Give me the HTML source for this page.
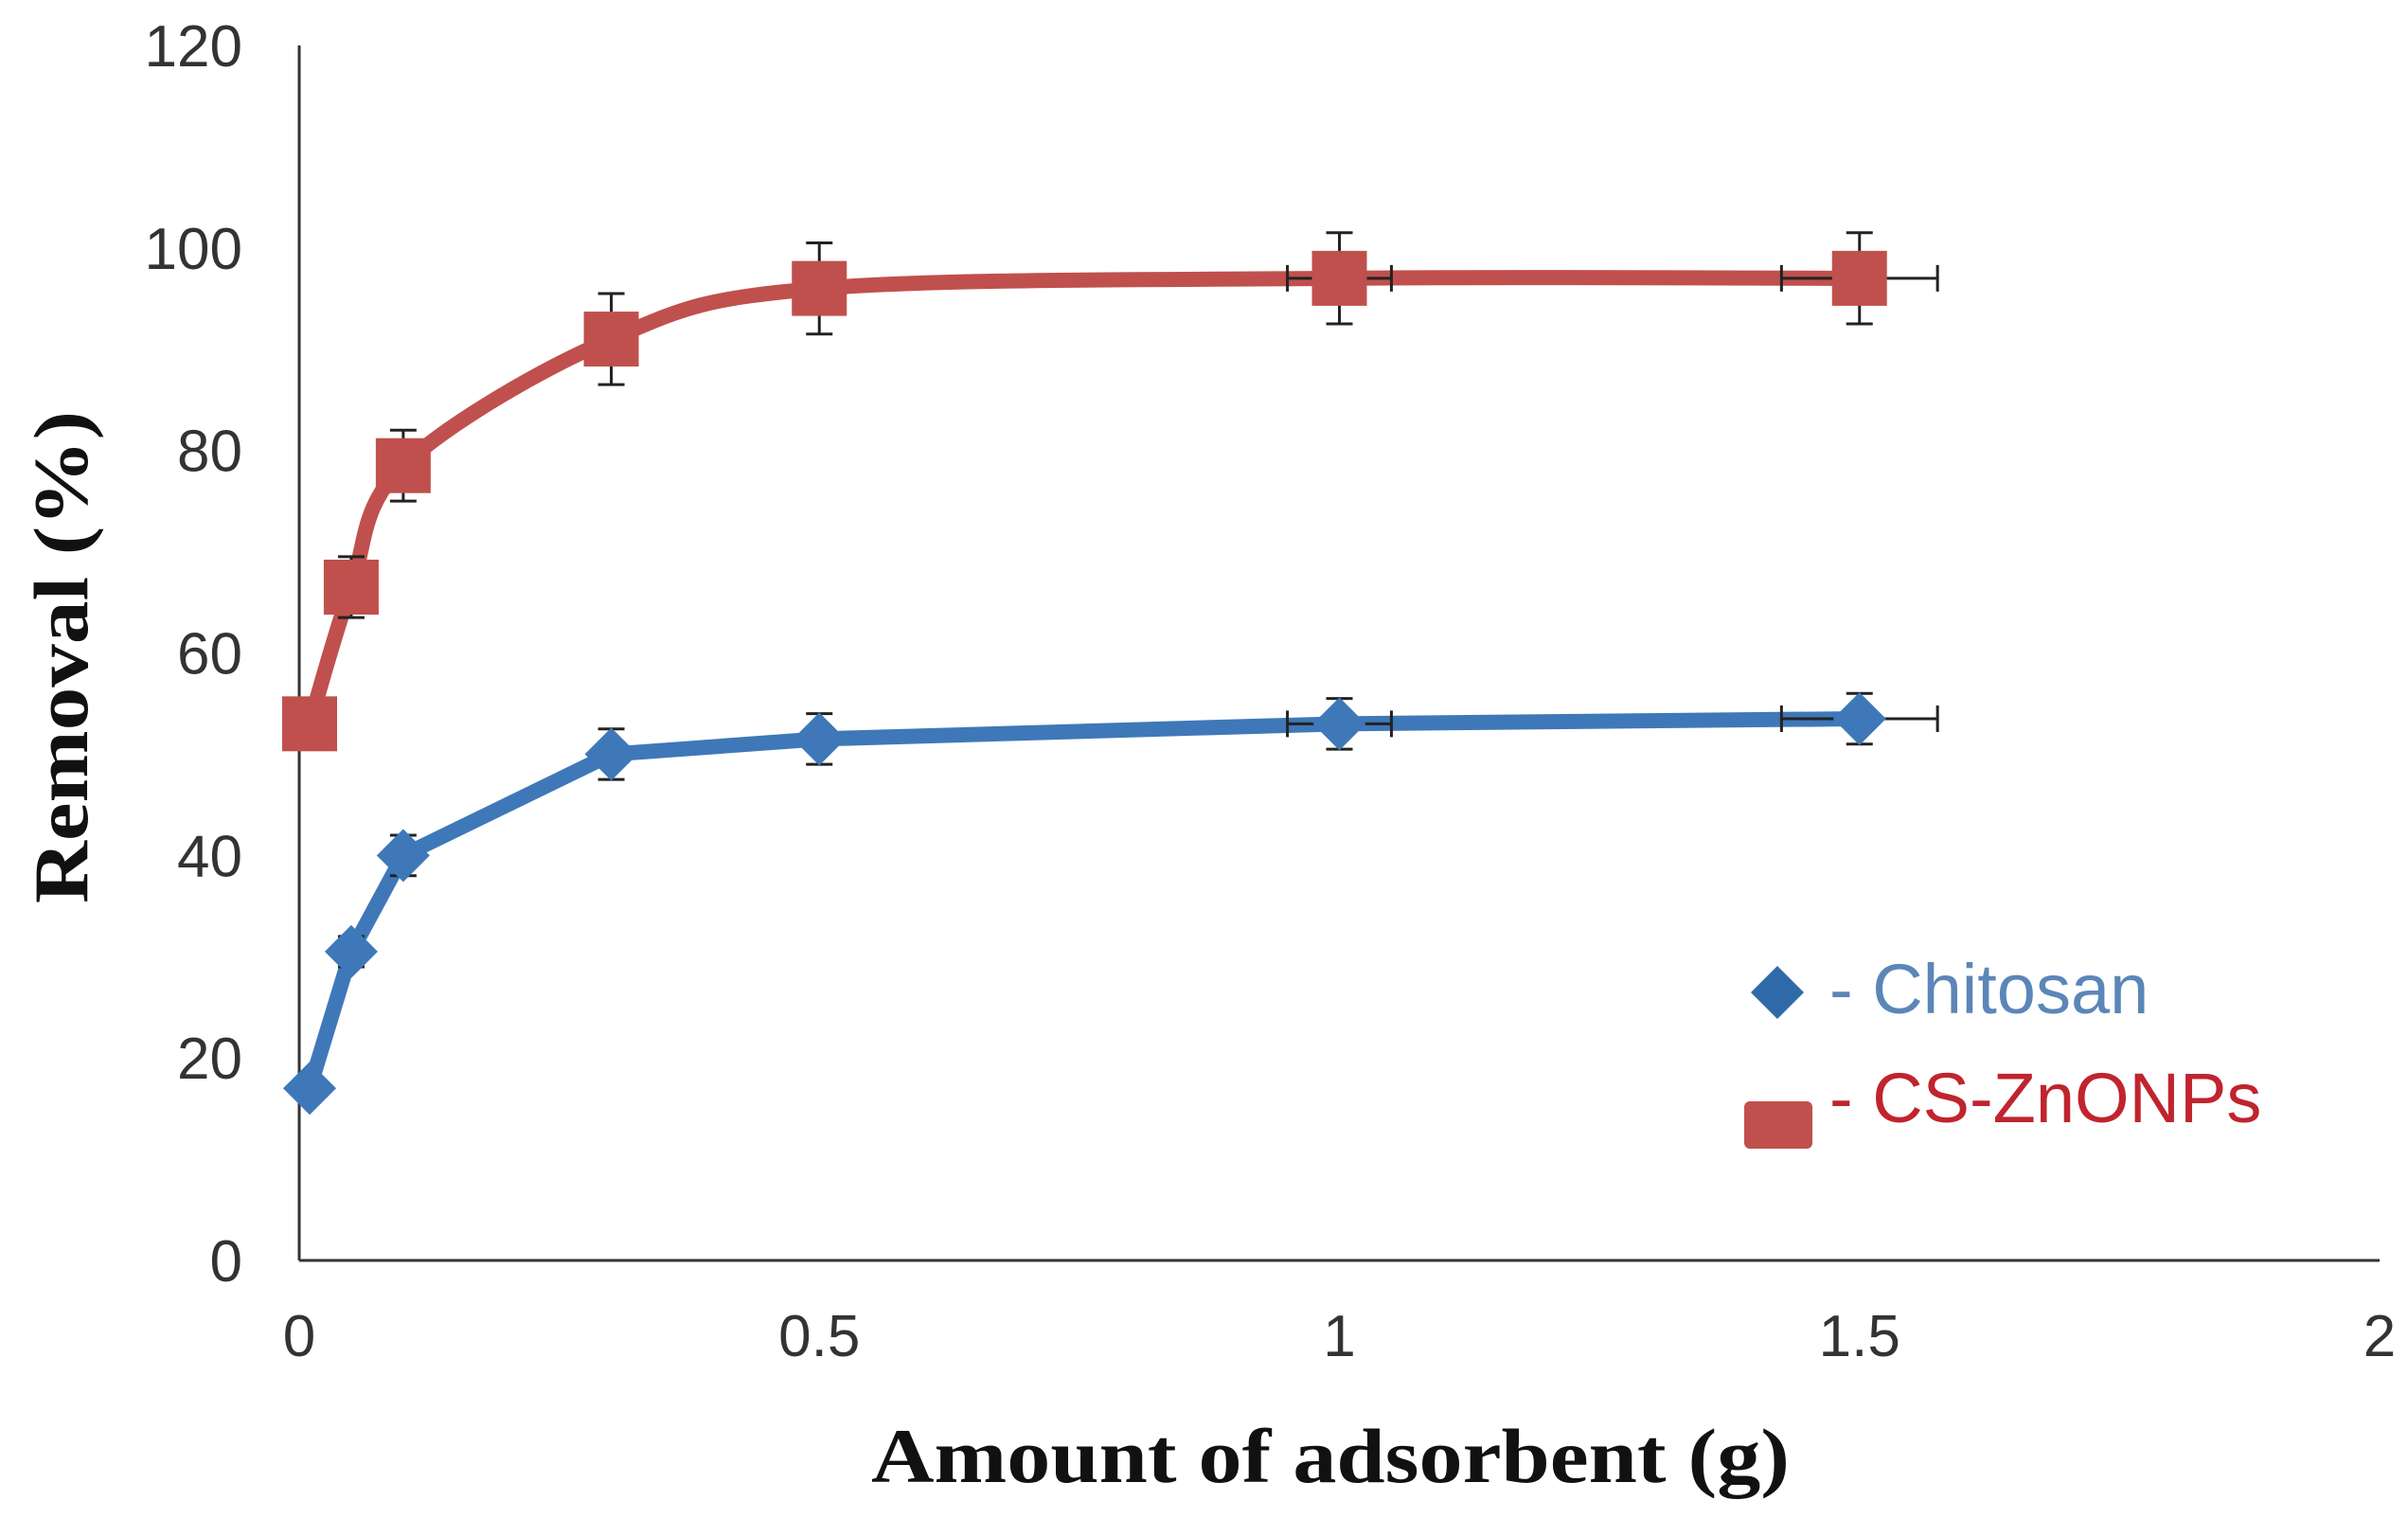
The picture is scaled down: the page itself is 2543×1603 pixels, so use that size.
<!DOCTYPE html>
<html><head><meta charset="utf-8"><style>html,body{margin:0;padding:0;background:#fff}svg{display:block}</style></head>
<body>
<svg id="chart" width="2543" height="1603" viewBox="0 0 2543 1603" xmlns="http://www.w3.org/2000/svg">
<g id="axes"></g><g id="series"></g>
<g>
  <path d="M1877,1020 L1905,1048 L1877,1076 L1849,1048 Z" fill="#2f6aa8"/>
  <text x="1932" y="1070" font-family="Liberation Sans, sans-serif" font-size="74" fill="#5b86b8">- Chitosan</text>
  <rect x="1842" y="1163" width="72" height="50" rx="6" fill="#c0504d"/>
  <text x="1932" y="1185" font-family="Liberation Sans, sans-serif" font-size="74" fill="#c0242e">- CS-ZnONPs</text>
</g>
<text transform="translate(92,694) rotate(-90)" text-anchor="middle" font-family="Liberation Serif, serif" font-weight="bold" font-size="82" textLength="520" lengthAdjust="spacingAndGlyphs" fill="#111">Removal (%)</text>
<text x="1405" y="1565" text-anchor="middle" font-family="Liberation Serif, serif" font-weight="bold" font-size="82" textLength="970" lengthAdjust="spacingAndGlyphs" fill="#111">Amount of adsorbent (g)</text>
</svg>
<script>
const xVals = [0.01, 0.05, 0.1, 0.3, 0.5, 1, 1.5];
const chitosan = [17, 30.5, 40, 50, 51.5, 53, 53.5];
const chitosanErr = [0, 1.5, 2, 2.5, 2.5, 2.5, 2.5];
const csZno = [53, 66.5, 78.5, 91, 96, 97, 97];
const csZnoErr = [0, 3, 3.5, 4.5, 4.5, 4.5, 4.5];
const xErr = [0, 0, 0, 0, 0, 0.05, 0.075];
const xTicks = [0, 0.5, 1, 1.5, 2];
const xTickLabels = ['0', '0.5', '1', '1.5', '2'];
const yTicks = [0, 20, 40, 60, 80, 100, 120];

const NS = 'http://www.w3.org/2000/svg';
const X0 = 316, X1 = 2513, Y0 = 1331, Y1 = 48;
const sx = v => X0 + (v - 0) / 2 * (X1 - X0);
const sy = v => Y0 - v / 120 * (Y0 - Y1);
function mk(tag, attrs, parent) {
  const e = document.createElementNS(NS, tag);
  for (const k in attrs) e.setAttribute(k, attrs[k]);
  parent.appendChild(e);
  return e;
}
const axes = document.getElementById('axes');
const series = document.getElementById('series');
let ax = mk('line', {x1: X0, y1: Y0, x2: X1, y2: Y0, stroke: '#333', 'stroke-width': 3}, axes);


let ay = mk('line', {x1: X0, y1: Y0, x2: X0, y2: Y1, stroke: '#333', 'stroke-width': 3}, axes);


yTicks.forEach(t => {
  const e = mk('text', {x: 256, y: sy(t) + 22, 'text-anchor': 'end', 'font-family': 'Liberation Sans, sans-serif', 'font-size': 62, fill: '#333'}, axes);
  e.textContent = t;
  
  
});
xTicks.forEach((t, i) => {
  const e = mk('text', {x: sx(t), y: 1432, 'text-anchor': 'middle', 'font-family': 'Liberation Sans, sans-serif', 'font-size': 62, fill: '#333'}, axes);
  e.textContent = xTickLabels[i];
  
  
});
function smoothPath(pts) {
  let d = 'M' + pts[0][0] + ',' + pts[0][1];
  for (let i = 0; i < pts.length - 1; i++) {
    const p0 = pts[Math.max(0, i - 1)], p1 = pts[i], p2 = pts[i + 1], p3 = pts[Math.min(pts.length - 1, i + 2)];
    const t = 0.5 / 3 * 2;
    const c1 = [p1[0] + (p2[0] - p0[0]) * t / 2, p1[1] + (p2[1] - p0[1]) * t / 2];
    const c2 = [p2[0] - (p3[0] - p1[0]) * t / 2, p2[1] - (p3[1] - p1[1]) * t / 2];
    d += ' C' + c1 + ' ' + c2 + ' ' + p2;
  }
  return d;
}
function drawSeries(vals, errs, color, name, marker, smooth) {
  const g = mk('g', {}, series);
  
  
  const pts = xVals.map((x, i) => [sx(x), sy(vals[i])]);
  const line = mk('path', {d: smooth ? smoothPath(pts) : 'M' + pts.join(' L'), fill: 'none', stroke: color, 'stroke-width': 16, 'stroke-linejoin': 'round'}, g);
  
  
  xVals.forEach((x, i) => {
    const cx = sx(x), cy = sy(vals[i]);
    if (errs[i] > 0) {
      const a = sy(vals[i] + errs[i]), b = sy(vals[i] - errs[i]);
      const eb = mk('path', {d: `M${cx},${a} L${cx},${b} M${cx-14},${a} L${cx+14},${a} M${cx-14},${b} L${cx+14},${b}`, stroke: '#222', 'stroke-width': 3, fill: 'none'}, g);
      
      
    }
    if (xErr[i] > 0) {
      const l = sx(x - xErr[i]), r = sx(x + xErr[i]);
      const hb = mk('path', {d: `M${l},${cy} L${r},${cy} M${l},${cy-14} L${l},${cy+14} M${r},${cy-14} L${r},${cy+14}`, stroke: '#222', 'stroke-width': 3, fill: 'none'}, g);
      
      
    }
    let m;
    if (marker === 'square') m = mk('rect', {x: cx - 29, y: cy - 29, width: 58, height: 58, fill: color}, g);
    else m = mk('path', {d: `M${cx},${cy-28} L${cx+28},${cy} L${cx},${cy+28} L${cx-28},${cy} Z`, fill: color}, g);
    
    
  });
}
drawSeries(csZno, csZnoErr, '#c0504d', 'cs-znonps', 'square', true);
drawSeries(chitosan, chitosanErr, '#3f78b8', 'chitosan', 'diamond', false);
</script>
</body></html>
